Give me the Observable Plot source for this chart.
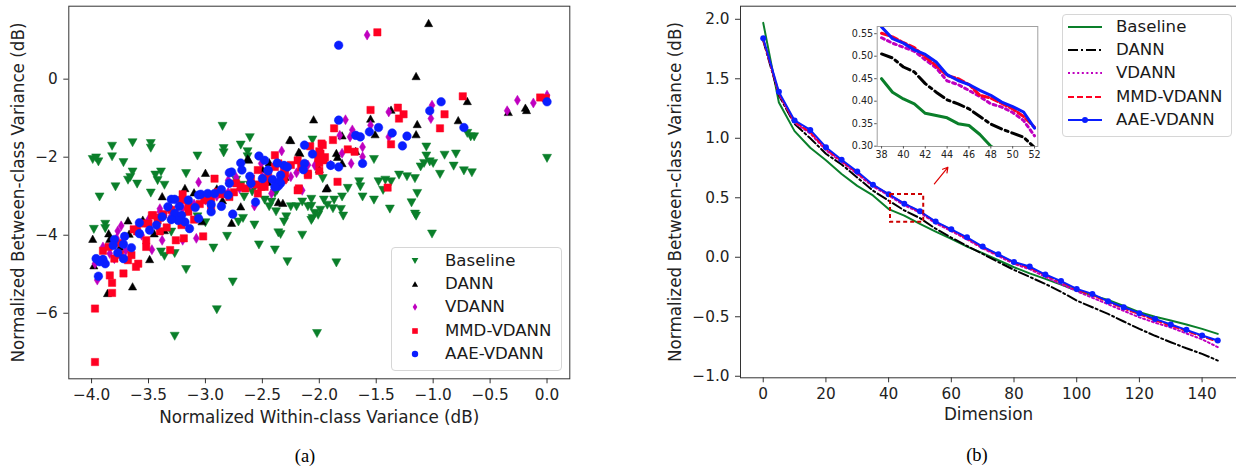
<!DOCTYPE html>
<html><head><meta charset="utf-8">
<script src="https://cdn.jsdelivr.net/npm/d3@7"></script>
<script src="https://cdn.jsdelivr.net/npm/@observablehq/plot@0.6"></script>
<style>
html,body{margin:0;padding:0;background:#fff;width:1236px;height:467px;overflow:hidden;font-family:"DejaVu Sans",sans-serif;}
#wrap{position:relative;width:1236px;height:467px;overflow:hidden;}
.legend{position:absolute;background:rgba(255,255,255,0.85);border:1px solid #d6d6d6;border-radius:4px;box-sizing:border-box;}
.legend span{position:absolute;transform:translateY(-50%);line-height:1;font-size:16.6px;color:#1a1a1a;white-space:nowrap;}
.caption{position:absolute;font-family:"Liberation Serif","DejaVu Serif",serif;font-size:18.5px;color:#000;transform:translate(-50%,-50%);}
</style></head>
<body><div id="wrap"></div>
<script>
// ---------------- DATA ----------------
const seriesNames = ["Baseline", "DANN", "VDANN", "MMD-VDANN", "AAE-VDANN"];

// (a) scatter: [within-class, between-class] in dB
const baselinePts = [[-3.99,-2.06],[-3.94,-2.12],[-3.96,-2.02],[-3.93,-3.02],[-3.82,-1.72],[-3.82,-1.99],[-3.72,-2.14],[-3.64,-1.63],[-3.48,-1.65],[-3.48,-1.77],[-3.68,-2.59],[-3.64,-2.38],[-3.60,-2.69],[-3.66,-2.52],[-3.79,-2.76],[-3.48,-2.92],[-3.44,-2.46],[-3.39,-2.38],[-3.42,-2.60],[-3.36,-2.72],[-3.17,-2.42],[-3.07,-1.97],[-2.85,-1.21],[-2.84,-1.78],[-2.84,-1.89],[-2.69,-1.69],[-2.61,-1.50],[-2.63,-1.86],[-2.63,-1.99],[-2.69,-2.72],[-2.73,-2.59],[-2.66,-3.02],[-2.59,-2.89],[-2.61,-2.72],[-2.48,-3.10],[-2.44,-3.27],[-2.42,-3.15],[-2.38,-3.40],[-2.29,-3.53],[-2.31,-3.66],[-2.25,-3.27],[-2.20,-3.27],[-2.15,-3.15],[-2.07,-3.26],[-2.06,-3.57],[-2.57,-3.74],[-2.71,-3.66],[-2.67,-3.57],[-3.00,-3.68],[-3.07,-3.53],[-3.09,-3.27],[-2.39,-2.93],[-2.37,-2.85],[-2.06,-1.56],[-3.98,-3.85],[-3.88,-3.72],[-3.88,-3.83],[-3.30,-3.92],[-3.39,-4.43],[-3.36,-4.54],[-3.27,-4.47],[-3.17,-4.88],[-2.93,-4.33],[-2.81,-4.03],[-2.76,-5.20],[-2.90,-5.91],[-3.27,-6.59],[-2.02,-6.52],[-2.53,-4.25],[-2.39,-4.38],[-2.36,-3.94],[-2.34,-3.98],[-2.28,-4.68],[-2.15,-4.00],[-1.85,-4.71],[-1.01,-3.97],[0.00,-2.03],[-0.67,-1.48],[-0.64,-1.48],[-0.70,-1.39],[-1.06,-1.74],[-1.06,-1.97],[-1.08,-2.16],[-1.03,-2.12],[-1.00,-2.16],[-1.11,-2.25],[-0.90,-1.95],[-0.80,-1.92],[-0.82,-2.23],[-0.73,-2.35],[-0.66,-2.40],[-0.94,-2.44],[-1.30,-2.46],[-1.23,-2.50],[-1.16,-2.55],[-1.14,-2.93],[-1.19,-3.17],[-1.15,-3.51],[-1.38,-3.33],[-1.52,-2.06],[-1.48,-2.63],[-1.52,-3.10],[-1.65,-2.63],[-1.64,-2.76],[-1.62,-3.02],[-1.75,-2.80],[-1.80,-3.02],[-1.81,-3.34],[-1.79,-3.51],[-1.87,-3.10],[-1.93,-3.23],[-1.96,-3.10],[-1.88,-3.32],[-1.99,-3.36],[-2.07,-3.08],[-2.10,-3.27],[-2.04,-3.44],[-2.07,-3.62],[-2.01,-3.49],[-1.44,-2.85],[-1.42,-2.59],[-1.37,-2.63],[-1.97,-2.55],[-1.16,-3.46]];
const dannPts = [[-2.05,-1.03],[-2.26,-1.55],[-2.63,-2.03],[-3.00,-2.40],[-3.18,-2.79],[-3.38,-3.00],[-3.68,-3.62],[-3.03,-3.64],[-2.77,-3.68],[-2.45,-2.63],[-2.36,-3.15],[-2.32,-3.17],[-2.18,-1.86],[-2.44,-2.13],[-1.04,1.44],[-1.15,0.08],[-0.70,-0.56],[-0.19,-0.73],[-0.18,-0.79],[-0.34,-0.84],[-0.78,-1.05],[-1.14,-1.15],[-1.15,-1.41],[-1.55,-1.01],[-1.51,-1.41],[-1.37,-0.78],[-1.80,-1.44],[-1.85,-1.89],[-1.84,-1.99],[-1.80,-2.15],[-1.94,-2.80],[-1.68,-1.84],[-3.99,-4.09],[-3.85,-3.95],[-3.84,-4.09],[-3.67,-3.96],[-3.98,-4.77],[-3.86,-5.48],[-3.64,-5.31],[-3.49,-4.61],[-3.36,-3.87],[-2.69,-3.26],[-2.62,-2.06],[-2.25,-1.56],[-2.17,-1.89],[-1.93,-2.78],[-3.30,-3.30],[-3.10,-2.90],[-2.90,-2.80],[-2.50,-2.30],[-2.30,-2.50],[-2.00,-2.30],[-3.55,-3.60],[-3.75,-4.30],[-3.45,-3.95],[-2.85,-3.10]];
const vdannPts = [[-1.58,1.13],[0.00,-0.41],[-0.12,-0.61],[-0.26,-0.54],[-0.35,-0.81],[-1.01,-0.67],[-1.02,-1.01],[-1.39,-0.84],[-1.39,-1.48],[-1.77,-1.04],[-1.71,-1.30],[-1.82,-1.44],[-1.73,-1.48],[-1.62,-1.74],[-1.62,-1.99],[-1.72,-2.16],[-2.03,-2.21],[-1.55,-1.18],[-2.33,-1.84],[-2.01,-2.08],[-2.04,-2.21],[-2.15,-2.85],[-2.25,-2.50],[-2.51,-2.16],[-2.57,-3.25],[-2.42,-2.93],[-3.06,-2.64],[-2.80,-2.59],[-2.73,-2.52],[-3.40,-3.32],[-3.56,-4.00],[-3.47,-4.37],[-3.38,-4.13],[-3.08,-4.08],[-3.20,-4.13],[-3.74,-3.76],[-3.77,-3.89],[-3.97,-4.73],[-3.95,-5.15],[-3.84,-4.47],[-3.78,-4.08],[-3.30,-3.50],[-3.20,-3.30],[-3.00,-3.10],[-2.90,-3.00],[-2.70,-2.80],[-2.60,-2.70],[-2.40,-2.60],[-2.20,-2.40],[-2.10,-2.20],[-1.90,-2.20],[-3.60,-3.80],[-3.70,-4.40],[-3.50,-3.60],[-3.40,-3.40],[-3.10,-3.20],[-2.80,-2.90],[-2.50,-2.50],[-2.30,-2.30],[-2.00,-1.95],[-1.80,-1.90],[-3.80,-4.60],[-3.90,-4.30]];
const mmdPts = [[-1.49,1.20],[-0.74,-0.44],[-0.06,-0.47],[-0.01,-0.49],[-0.90,-0.90],[-0.94,-1.26],[-1.31,-0.73],[-1.26,-0.90],[-1.30,-1.01],[-1.55,-0.79],[-1.37,-1.67],[-1.87,-1.26],[-1.88,-1.56],[-1.97,-1.69],[-1.99,-1.91],[-1.96,-2.08],[-2.00,-2.15],[-1.75,-1.80],[-1.69,-1.86],[-1.84,-2.63],[-1.40,-2.78],[-2.10,-2.46],[-1.98,-1.65],[-2.01,-2.03],[-2.00,-2.35],[-2.18,-2.80],[-2.19,-2.08],[-2.39,-1.95],[-2.39,-2.25],[-2.31,-2.29],[-2.32,-2.59],[-2.48,-2.76],[-2.54,-2.93],[-2.92,-2.55],[-3.02,-4.03],[-3.19,-4.08],[-3.31,-4.38],[-3.26,-4.13],[-3.52,-4.13],[-3.52,-4.30],[-3.59,-4.73],[-3.72,-4.98],[-3.82,-5.22],[-3.84,-5.03],[-3.82,-5.48],[-3.68,-4.64],[-3.65,-4.51],[-3.63,-3.85],[-3.46,-3.49],[-3.37,-3.46],[-3.34,-3.80],[-3.21,-3.74],[-2.79,-3.02],[-2.54,-2.33],[-3.97,-5.88],[-3.97,-7.25],[-3.61,-4.81],[-2.08,-1.72],[-2.16,-2.26],[-2.10,-2.42],[-2.36,-2.16],[-2.31,-2.55],[-2.19,-2.85],[-2.48,-2.63],[-2.51,-2.76],[-2.73,-2.67],[-2.69,-2.76],[-2.89,-2.89],[-3.01,-3.10],[-2.95,-3.32],[-3.15,-3.27],[-3.21,-3.10],[-3.27,-3.44],[-3.42,-3.62],[-3.47,-3.49],[-3.56,-3.70],[-3.90,-4.40],[-3.75,-4.50],[-3.80,-4.60],[-3.40,-3.90],[-3.10,-3.60],[-3.60,-3.90],[-3.50,-3.70],[-3.40,-3.55],[-3.30,-3.35],[-3.15,-3.40],[-3.05,-3.20],[-2.95,-3.05],[-2.85,-2.95],[-2.75,-2.90],[-2.65,-2.80],[-2.60,-2.55],[-2.45,-2.45],[-2.30,-2.40],[-2.25,-2.20],[-3.75,-4.20],[-3.85,-4.30],[-3.20,-2.95],[-2.55,-2.70],[-2.00,-1.85],[-1.95,-2.00]];
const aaePts = [[-1.83,0.87],[0.00,-0.58],[-0.93,-0.58],[-1.03,-0.81],[-0.73,-1.24],[-1.83,-1.05],[-1.48,-1.24],[-1.56,-1.35],[-1.36,-1.38],[-1.23,-1.46],[-1.27,-1.71],[-1.68,-1.44],[-1.64,-1.48],[-1.62,-2.16],[-1.83,-2.25],[-1.90,-2.21],[-2.13,-1.69],[-2.06,-1.92],[-2.13,-2.16],[-2.14,-2.32],[-2.31,-2.21],[-2.37,-2.15],[-2.45,-2.35],[-2.41,-2.57],[-2.50,-2.55],[-2.34,-2.67],[-2.36,-2.74],[-2.56,-3.15],[-2.48,-2.08],[-2.69,-2.15],[-2.68,-2.33],[-2.79,-2.40],[-2.53,-1.97],[-2.86,-2.83],[-2.80,-2.97],[-2.76,-3.46],[-2.86,-3.26],[-2.95,-3.21],[-2.95,-3.40],[-3.06,-2.97],[-3.04,-2.95],[-3.09,-3.29],[-3.06,-3.57],[-3.15,-3.10],[-3.23,-3.26],[-3.27,-3.44],[-3.21,-3.49],[-3.18,-3.66],[-3.14,-3.83],[-3.24,-3.62],[-3.30,-3.60],[-3.30,-3.08],[-3.33,-3.27],[-3.38,-3.53],[-3.43,-3.74],[-3.58,-3.68],[-3.49,-3.87],[-3.58,-3.96],[-3.71,-4.03],[-3.80,-4.11],[-3.81,-4.26],[-3.72,-4.23],[-3.65,-4.32],[-3.77,-4.45],[-3.72,-4.60],[-3.96,-4.60],[-3.90,-4.62],[-3.88,-4.73],[-3.93,-4.68],[-3.94,-5.05],[-3.27,-3.08],[-2.98,-2.93],[-2.92,-2.93],[-2.77,-2.38],[-2.79,-2.67],[-2.61,-2.49],[-2.60,-2.67],[-2.45,-2.33],[-2.34,-2.46],[-2.35,-2.63],[-2.39,-2.76],[-2.28,-2.25]];

const xTicksA = [-4.0,-3.5,-3.0,-2.5,-2.0,-1.5,-1.0,-0.5,0.0];
const yTicksA = [-6,-4,-2,0];

// (b) curves: dimension vs between-class variance
const dims = [0,5,10,15,20,25,30,35,40,45,50,55,60,65,70,75,80,85,90,95,100,105,110,115,120,125,130,135,140,145];
const baselineCurve = [1.97,1.30,1.06,0.92,0.815,0.70,0.60,0.52,0.405,0.35,0.28,0.215,0.155,0.09,0.035,-0.025,-0.084,-0.135,-0.182,-0.23,-0.28,-0.32,-0.358,-0.41,-0.462,-0.50,-0.532,-0.565,-0.602,-0.644];
const dannCurve = [1.82,1.36,1.12,1.00,0.87,0.78,0.67,0.56,0.476,0.394,0.329,0.24,0.165,0.095,0.028,-0.04,-0.106,-0.165,-0.224,-0.29,-0.364,-0.42,-0.476,-0.54,-0.602,-0.66,-0.714,-0.765,-0.812,-0.868];
const vdannCurve = [1.83,1.37,1.13,1.04,0.90,0.80,0.70,0.595,0.52,0.437,0.375,0.285,0.22,0.15,0.075,0.01,-0.055,-0.10,-0.165,-0.225,-0.285,-0.34,-0.395,-0.45,-0.505,-0.55,-0.59,-0.64,-0.69,-0.755];
const mmdCurve = [1.83,1.38,1.14,1.05,0.91,0.81,0.71,0.605,0.53,0.45,0.383,0.295,0.23,0.16,0.085,0.02,-0.045,-0.09,-0.15,-0.21,-0.27,-0.32,-0.375,-0.43,-0.48,-0.53,-0.575,-0.62,-0.665,-0.71];
const aaeCurve = [1.84,1.39,1.15,1.07,0.925,0.82,0.72,0.61,0.53,0.45,0.387,0.30,0.235,0.168,0.09,0.025,-0.04,-0.078,-0.145,-0.20,-0.266,-0.308,-0.37,-0.42,-0.47,-0.518,-0.565,-0.61,-0.658,-0.70];

const insetDims = [38,39,40,41,42,43,44,45,46,47,48,49,50,51,52];
const baselineInset = [0.45,0.42,0.405,0.394,0.373,0.368,0.363,0.35,0.346,0.326,0.30,0.285,0.27,0.255,0.24];
const dannInset = [0.505,0.496,0.476,0.465,0.439,0.42,0.403,0.394,0.383,0.366,0.349,0.338,0.329,0.32,0.297];
const vdannInset = [0.541,0.529,0.52,0.511,0.492,0.474,0.445,0.437,0.424,0.41,0.394,0.387,0.375,0.357,0.323];
const mmdInset = [0.551,0.543,0.53,0.519,0.498,0.479,0.457,0.45,0.437,0.413,0.407,0.395,0.383,0.366,0.342];
const aaeInset = [0.565,0.539,0.529,0.514,0.504,0.487,0.459,0.446,0.437,0.424,0.413,0.398,0.388,0.376,0.34];

const xTicksB = [0,20,40,60,80,100,120,140];
const yTicksB = [-1.0,-0.5,0.0,0.5,1.0,1.5,2.0];
const insetXTicks = [38,40,42,44,46,48,50,52];
const insetYTicks = [0.30,0.35,0.40,0.45,0.50,0.55];
const zoomBox = [{x1: 40.6, x2: 51.2, y1: 0.294, y2: 0.527}];
const zoomArrow = [{x1: 54.6, y1: 0.617, x2: 58.9, y2: 0.756}];

// ---------------- STYLE ----------------
const GREEN = "#0a7f2a", BLACK = "#000000", MAGENTA = "#bf00bf", RED = "#ff0022", BLUE = "#0a1eff";
const AXIS = "#222";

function rad(size){ return Math.sqrt(size/Math.PI); }
const symTriDown = {draw(c,s){const r=rad(s); c.moveTo(-r,-0.9*r); c.lineTo(r,-0.9*r); c.lineTo(0,0.9*r); c.closePath();}};
const symTriUp = {draw(c,s){const r=rad(s); c.moveTo(-r,0.9*r); c.lineTo(r,0.9*r); c.lineTo(0,-0.9*r); c.closePath();}};
const symThinDiamond = {draw(c,s){const r=rad(s); c.moveTo(0,-r); c.lineTo(0.6*r,0); c.lineTo(0,r); c.lineTo(-0.6*r,0); c.closePath();}};
const symSquare = {draw(c,s){const r=rad(s); const h=0.85*r; c.rect(-h,-h,2*h,2*h);}};
const symCircle = {draw(c,s){const r=rad(s); c.moveTo(r,0); c.arc(0,0,r,0,2*Math.PI);}};

const scatterSeries = [
  {name: seriesNames[0], pts: baselinePts, color: GREEN, sym: symTriDown, r: 4.5, lr: 3.4},
  {name: seriesNames[1], pts: dannPts, color: BLACK, sym: symTriUp, r: 4.1, lr: 3.1},
  {name: seriesNames[2], pts: vdannPts, color: MAGENTA, sym: symThinDiamond, r: 5.0, lr: 3.8},
  {name: seriesNames[3], pts: mmdPts, color: RED, sym: symSquare, r: 4.3, lr: 3.3},
  {name: seriesNames[4], pts: aaePts, color: BLUE, sym: symCircle, r: 4.3, lr: 3.2}
];
const curveSeries = [
  {name: seriesNames[0], vals: baselineCurve, inset: baselineInset, color: GREEN, dash: null, dashI: null},
  {name: seriesNames[1], vals: dannCurve, inset: dannInset, color: BLACK, dash: "10,3,2,3", dashI: "11,4,3,4"},
  {name: seriesNames[2], vals: vdannCurve, inset: vdannInset, color: MAGENTA, dash: "2,2.6", dashI: "3,3.6"},
  {name: seriesNames[3], vals: mmdCurve, inset: mmdInset, color: RED, dash: "6,3", dashI: "7,3"},
  {name: seriesNames[4], vals: aaeCurve, inset: aaeInset, color: BLUE, dash: null, dashI: null, marker: true}
];

const fmt0 = d3.format("d"), fmt1 = d3.format(".1f"), fmt2 = d3.format(".2f");
const wrap = document.getElementById("wrap");
function place(el, left, top){ el.style.position = "absolute"; el.style.left = left + "px"; el.style.top = top + "px"; wrap.appendChild(el); return el; }
function symPath(sym, r){ const p = d3.path(); sym.draw(p, Math.PI*r*r); return p.toString(); }

// ---------------- (a) scatter ----------------
const plotA = Plot.plot({
  width: 610, height: 440,
  marginLeft: 68.3, marginRight: 40.7, marginTop: 5.7, marginBottom: 61.7,
  x: {domain: [-4.2, 0.2]},
  y: {domain: [-7.68, 1.87]},
  style: {fontFamily: "DejaVu Sans", fontSize: "15.3px", color: AXIS, background: "transparent", overflow: "visible"},
  marks: [
    ...scatterSeries.map(s => Plot.dot(s.pts, {x: d => d[0], y: d => d[1], symbol: s.sym, r: s.r, fill: s.color, stroke: s.color, strokeWidth: 0.5})),
    Plot.frame({stroke: "#333", strokeWidth: 1}),
    Plot.axisX({ticks: xTicksA, tickFormat: fmt1, tickSize: 5, tickPadding: 5, label: null, stroke: "#333"}),
    Plot.axisY({ticks: yTicksA, tickFormat: fmt0, tickSize: 5, tickPadding: 6, label: null, stroke: "#333"}),
    Plot.text(["Normalized Within-class Variance (dB)"], {text: d => d, frameAnchor: "bottom", textAnchor: "middle", lineAnchor: "middle", dy: 38.5, fontSize: 16.8, fill: AXIS}),
    Plot.text(["Normalized Between-class Variance (dB)"], {text: d => d, frameAnchor: "left", textAnchor: "middle", lineAnchor: "middle", rotate: -90, dx: -50, fontSize: 16.8, fill: AXIS})
  ]
});
place(plotA, 0, 0);

// legend (a)
const legA = document.createElement("div");
legA.className = "legend";
legA.style.width = "171px"; legA.style.height = "123.4px";
scatterSeries.forEach((s, i) => {
  const cy = 12.4 + i*23.4;
  const m = document.createElementNS("http://www.w3.org/2000/svg", "svg");
  m.setAttribute("width", 16); m.setAttribute("height", 16);
  m.style.cssText = `position:absolute;left:${23.3-8}px;top:${cy-8}px;overflow:visible`;
  m.innerHTML = `<path transform="translate(8,8)" d="${symPath(s.sym, s.lr)}" fill="${s.color}"/>`;
  legA.appendChild(m);
  const t = document.createElement("span");
  t.textContent = s.name; t.style.left = "53.3px"; t.style.top = cy + "px";
  legA.appendChild(t);
});
place(legA, 390.7, 247.3);

// ---------------- (b) curves ----------------
const curveRows = s => dims.map((d, i) => ({x: d, y: s.vals[i]}));
const plotB = Plot.plot({
  width: 620, height: 440,
  marginLeft: 120, marginRight: 0, marginTop: 5.7, marginBottom: 62.7,
  x: {domain: [-7.25, 152.25]},
  y: {domain: [-1.013, 2.11]},
  style: {fontFamily: "DejaVu Sans", fontSize: "15.3px", color: AXIS, background: "transparent", overflow: "visible"},
  marks: [
    ...curveSeries.flatMap(s => {
      const ms = [Plot.line(curveRows(s), {x: "x", y: "y", stroke: s.color, strokeWidth: 2, strokeDasharray: s.dash || undefined})];
      if (s.marker) ms.push(Plot.dot(curveRows(s), {x: "x", y: "y", r: 3, fill: s.color}));
      return ms;
    }),
    Plot.rect(zoomBox, {x1: "x1", x2: "x2", y1: "y1", y2: "y2", fill: "none", stroke: "#cc0000", strokeWidth: 2, strokeDasharray: "4,3"}),
    Plot.arrow(zoomArrow, {x1: "x1", y1: "y1", x2: "x2", y2: "y2", stroke: "#dd0000", strokeWidth: 1.2, headLength: 7}),
    Plot.frame({stroke: "#333", strokeWidth: 1}),
    Plot.axisX({ticks: xTicksB, tickFormat: fmt0, tickSize: 5, tickPadding: 5, label: null, stroke: "#333"}),
    Plot.axisY({ticks: yTicksB, tickFormat: fmt1, tickSize: 5, tickPadding: 6, label: null, stroke: "#333"}),
    Plot.text(["Dimension"], {text: d => d, frameAnchor: "bottom", textAnchor: "middle", lineAnchor: "middle", dy: 37, dx: -2, fontSize: 16.8, fill: AXIS}),
    Plot.text(["Normalized Between-class Variance (dB)"], {text: d => d, frameAnchor: "left", textAnchor: "middle", lineAnchor: "middle", rotate: -90, dx: -65, fontSize: 16.8, fill: AXIS})
  ]
});
place(plotB, 620, 0);

// inset
const insetRows = s => insetDims.map((d, i) => ({x: d, y: s.inset[i]}));
const plotInset = Plot.plot({
  width: 200, height: 150,
  marginLeft: 30.7, marginRight: 8.7, marginTop: 10, marginBottom: 20,
  x: {domain: [37.6, 52.3]},
  y: {domain: [0.2993, 0.566]},
  style: {fontFamily: "DejaVu Sans", fontSize: "9.6px", color: AXIS, background: "transparent", overflow: "visible"},
  marks: [
    Plot.frame({fill: "white", stroke: "none"}),
    ...curveSeries.map(s => Plot.line(insetRows(s), {x: "x", y: "y", stroke: s.color, strokeWidth: 3, strokeDasharray: s.dashI || undefined, clip: true})),
    Plot.frame({stroke: "#a0a0a0", strokeWidth: 1}),
    Plot.axisX({ticks: insetXTicks, tickFormat: fmt0, tickSize: 2.5, tickPadding: 2, label: null, stroke: "#555"}),
    Plot.axisY({ticks: insetYTicks, tickFormat: fmt2, tickSize: 2.5, tickPadding: 1.5, label: null, stroke: "#555"})
  ]
});
place(plotInset, 846, 16);

// legend (b)
const legB = document.createElement("div");
legB.className = "legend";
legB.style.width = "170px"; legB.style.height = "122.7px";
curveSeries.forEach((s, i) => {
  const cy = 11.7 + i*23.3;
  const m = document.createElementNS("http://www.w3.org/2000/svg", "svg");
  m.setAttribute("width", 36); m.setAttribute("height", 10);
  m.style.cssText = `position:absolute;left:5px;top:${cy-5}px;overflow:visible`;
  let inner = `<line x1="0" y1="5" x2="34" y2="5" stroke="${s.color}" stroke-width="2" ${s.dash ? `stroke-dasharray="${s.dash}"` : ""}/>`;
  if (s.marker) inner += `<circle cx="17" cy="5" r="3" fill="${s.color}"/>`;
  m.innerHTML = inner;
  legB.appendChild(m);
  const t = document.createElement("span");
  t.textContent = s.name; t.style.left = "53.3px"; t.style.top = cy + "px";
  legB.appendChild(t);
});
place(legB, 1061.7, 14);

// captions
const capA = document.createElement("div"); capA.className = "caption"; capA.textContent = "(a)"; place(capA, 305, 456);
const capB = document.createElement("div"); capB.className = "caption"; capB.textContent = "(b)"; place(capB, 977, 455);
</script>
</body></html>
